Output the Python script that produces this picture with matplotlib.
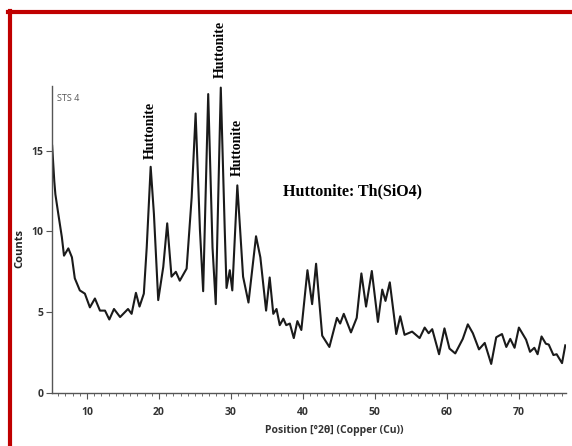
import matplotlib
matplotlib.use("Agg")
from matplotlib import pyplot as plt
from matplotlib.lines import Line2D
from matplotlib.ticker import MultipleLocator

# XRD pattern: 2-theta (deg) and counts
two_theta = [5.15, 5.3, 5.45, 5.6, 6.0, 6.5, 6.8, 7.4, 7.9, 8.3, 9.0, 9.7, 10.4, 11.1,
             11.8, 12.5, 13.1, 13.75, 14.6, 15.7, 16.2, 16.8, 17.3, 17.9, 18.3, 18.85,
             19.3, 19.9, 20.6, 21.15, 21.75, 22.35, 22.9, 23.85, 24.55, 25.1, 25.7,
             26.15, 26.85, 27.45, 27.9, 28.6, 29.15, 29.4, 29.85, 30.2, 30.9, 31.7,
             32.45, 33.5, 34.1, 34.9, 35.4, 35.9, 36.35, 36.8, 37.3, 37.7, 38.2, 38.75,
             39.25, 39.8, 40.65, 41.3, 41.85, 42.7, 43.7, 44.75, 45.2, 45.7, 46.7,
             47.5, 48.15, 48.8, 49.6, 50.45, 51.05, 51.5, 52.1, 53.0, 53.55, 54.15,
             55.2, 56.25, 56.95, 57.5, 58.0, 58.95, 59.7, 60.4, 61.2, 62.25, 62.95,
             63.65, 64.5, 65.3, 66.2, 66.9, 67.7, 68.3, 68.85, 69.45, 70.05, 71.05,
             71.6, 72.2, 72.65, 73.2, 73.8, 74.2, 74.85, 75.3, 76.05, 76.5]
counts = [15.3, 14.2, 13.1, 12.3, 11.1, 9.65, 8.5, 8.95, 8.4, 7.1, 6.35, 6.15, 5.3, 5.85,
          5.1, 5.1, 4.55, 5.2, 4.7, 5.2, 4.9, 6.2, 5.35, 6.15, 9.0, 14.0,
          11.1, 5.75, 7.8, 10.5, 7.2, 7.5, 6.95, 7.7, 12.1, 17.3, 10.1,
          6.3, 18.5, 9.0, 5.5, 18.9, 10.1, 6.5, 7.6, 6.35, 12.85, 7.2,
          5.6, 9.7, 8.4, 5.1, 7.15, 4.9, 5.2, 4.2, 4.6, 4.2, 4.3, 3.4,
          4.45, 3.9, 7.6, 5.5, 8.0, 3.55, 2.85, 4.65, 4.3, 4.9, 3.75,
          4.65, 7.4, 5.35, 7.55, 4.4, 6.4, 5.7, 6.85, 3.65, 4.75, 3.6,
          3.8, 3.4, 4.05, 3.7, 3.95, 2.4, 4.0, 2.75, 2.45, 3.35, 4.25,
          3.7, 2.7, 3.1, 1.8, 3.45, 3.65, 2.85, 3.35, 2.8, 4.05, 3.3,
          2.55, 2.8, 2.4, 3.5, 3.05, 3.0, 2.35, 2.4, 1.85, 2.95]

# peak labels (x, y of text bottom)
peak_x = [18.85, 28.6, 30.9]
peak_y = [14.5, 19.5, 13.4]

x_ticks = [10, 20, 30, 40, 50, 60, 70]
y_ticks = [0, 5, 10, 15]

fig = plt.figure(figsize=(5.72, 4.46), dpi=100)
ax = fig.add_axes([0.0909, 0.1188, 0.8986, 0.6884])

ax.plot(two_theta, counts, color="#1a1a1a", lw=1.5, solid_joinstyle="round")
ax.set_xlim(5.13, 76.6)
ax.set_ylim(0, 19)

for s in ["top", "right"]:
    ax.spines[s].set_visible(False)
for s in ["left", "bottom"]:
    ax.spines[s].set_color("#555555")
    ax.spines[s].set_linewidth(1.0)

ax.set_xticks(x_ticks)
ax.set_yticks(y_ticks)
ax.xaxis.set_minor_locator(MultipleLocator(1))
ax.tick_params(axis="both", which="major", length=4, width=0.8, color="#555555",
               labelsize=7.5, labelcolor="#333333")
ax.tick_params(axis="x", which="major", pad=6)
ax.tick_params(axis="y", which="major", pad=2)
ax.tick_params(axis="x", which="minor", length=2, width=0.6, color="#555555")
for lab in ax.get_xticklabels() + ax.get_yticklabels():
    lab.set_fontweight("bold")
    lab.set_family("Open Sans")

ax.set_xlabel("Position [°2θ] (Copper (Cu))", fontsize=7.5, fontweight="bold",
              family="Open Sans", color="#333333", labelpad=5)
ax.xaxis.set_label_coords(0.55, -0.105)
ax.set_ylabel("Counts", fontsize=8, fontweight="bold", family="Open Sans",
              color="#222222")
ax.yaxis.set_label_coords(-0.052, 0.47)

ax.text(5.8, 18.5, "STS 4", fontsize=6.5, color="#555555", family="Open Sans",
        va="top", ha="left")

for px, py in zip(peak_x, peak_y):
    ax.text(px, py, "Huttonite", rotation=90, ha="center", va="bottom",
            fontsize=10, fontweight="bold", family="Liberation Serif", clip_on=False)

ax.text(46.9, 12.5, "Huttonite: Th(SiO4)", ha="center", va="center", fontsize=11.5,
        fontweight="bold", family="Liberation Serif")

# red frame (top and left edges)
red = "#c00000"
fig.add_artist(Line2D([8 / 572, 1.0], [1 - 12 / 446, 1 - 12 / 446], color=red, lw=3))
fig.add_artist(Line2D([9.5 / 572, 9.5 / 572], [0.0, 1 - 10.5 / 446], color=red, lw=3))

fig.savefig("out.png", dpi=100)
